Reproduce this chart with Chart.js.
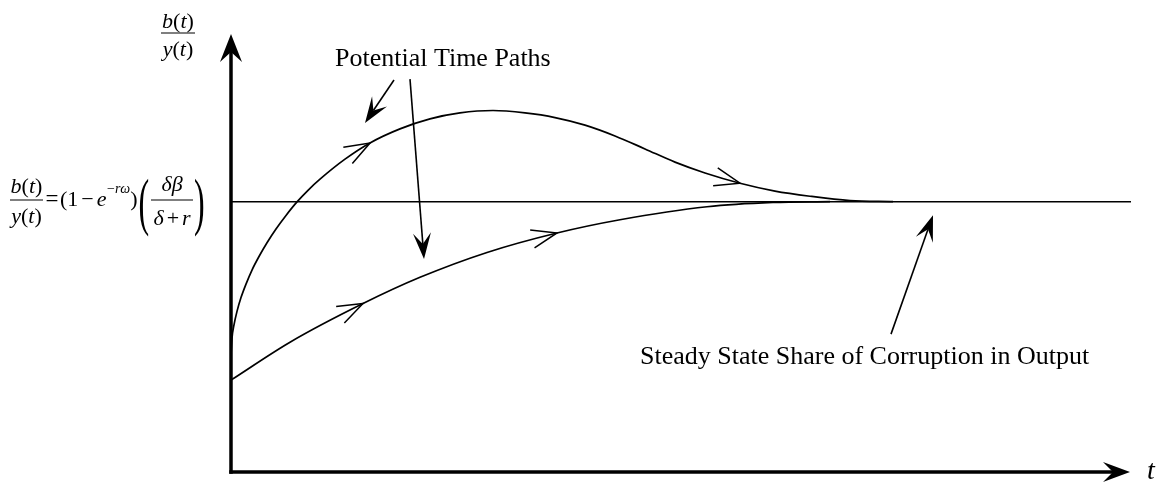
<!DOCTYPE html>
<html>
<head>
<meta charset="utf-8">
<script src="https://cdn.jsdelivr.net/npm/chart.js@4.4.1/dist/chart.umd.min.js"></script>
<style>
  html, body { margin: 0; padding: 0; background: #ffffff; }
  canvas { display: block; }
</style>
</head>
<body>
<canvas id="paths" width="1161" height="483"></canvas>
<script>
// Time axis and share axis ranges (steady-state share normalised to 1)
const timeRange = [0, 9];
const shareRange = [0, 1.62];
const steadyShare = 1;

// Path that overshoots the steady state before converging
const overshootT = [0, 0.01, 0.03, 0.06, 0.10, 0.15, 0.21, 0.28, 0.36, 0.45, 0.55, 0.66, 0.77, 0.89, 1.14, 1.39,
                    1.69, 1.99, 2.29, 2.62, 2.94, 3.24, 3.54, 3.84, 4.14, 4.44, 4.74, 5.09, 5.44, 5.79, 6.19, 6.62];
const overshootShare = [0.433, 0.495, 0.544, 0.594, 0.645, 0.695, 0.747, 0.797, 0.848, 0.899, 0.949, 0.999, 1.042, 1.083, 1.157, 1.217,
                        1.269, 1.306, 1.328, 1.337, 1.328, 1.311, 1.283, 1.243, 1.195, 1.146, 1.106, 1.068, 1.039, 1.020, 1.004, 1.0];
const overshootArrowIdx = [15, 27];

// Path that rises gradually towards the steady state
const gradualT =     [0, 0.59, 1.32, 1.89, 2.56, 3.26, 3.89, 4.76, 5.42, 5.99];
const gradualShare = [0.340, 0.480, 0.623, 0.720, 0.812, 0.884, 0.933, 0.981, 0.997, 1.0];
const gradualArrowIdx = [2, 5];

// Text shown on the diagram
const axisLabelT = 't';
const pathsLabel = 'Potential Time Paths';
const steadyLabel = 'Steady State Share of Corruption in Output';

const toPoints = (xs, ys) => xs.map((x, i) => ({ x: x, y: ys[i] }));

const SERIF = '"Liberation Serif", "Times New Roman", serif';
const INK = '#000000';

// Annotation arrows in (t, share) coordinates: [tail, tip]
const callouts = [
  [[1.63, 1.450], [1.34, 1.291]],
  [[1.79, 1.453], [1.93, 0.788]],
  [[6.60, 0.510], [7.02, 0.950]]
];

function filledArrow(ctx, x1, y1, x2, y2, len, half, notch, width) {
  const a = Math.atan2(y2 - y1, x2 - x1);
  const ca = Math.cos(a), sa = Math.sin(a);
  const nx = x2 - ca * notch, ny = y2 - sa * notch;
  ctx.save();
  ctx.strokeStyle = INK;
  ctx.fillStyle = INK;
  ctx.lineWidth = width;
  ctx.beginPath();
  ctx.moveTo(x1, y1);
  ctx.lineTo(nx, ny);
  ctx.stroke();
  const bx = x2 - ca * len, by = y2 - sa * len;
  ctx.beginPath();
  ctx.moveTo(x2, y2);
  ctx.lineTo(bx - sa * half, by + ca * half);
  ctx.lineTo(nx, ny);
  ctx.lineTo(bx + sa * half, by - ca * half);
  ctx.closePath();
  ctx.fill();
  ctx.restore();
}

function chevron(ctx, x, y, dx, dy) {
  const back = Math.atan2(-dy, -dx);
  const spread = 20 * Math.PI / 180;
  const len = 27;
  ctx.save();
  ctx.strokeStyle = INK;
  ctx.lineWidth = 1.5;
  ctx.beginPath();
  ctx.moveTo(x + Math.cos(back + spread) * len, y + Math.sin(back + spread) * len);
  ctx.lineTo(x, y);
  ctx.lineTo(x + Math.cos(back - spread) * len, y + Math.sin(back - spread) * len);
  ctx.stroke();
  ctx.restore();
}

// Text runs: [text, italic?, gapAfter]
function runsWidth(ctx, runs, size) {
  let w = 0;
  for (const r of runs) {
    ctx.font = (r[1] ? 'italic ' : '') + size + 'px ' + SERIF;
    w += ctx.measureText(r[0]).width + (r[2] || 0);
  }
  return w;
}
function drawRuns(ctx, runs, x, y, size) {
  let cx = x;
  for (const r of runs) {
    ctx.font = (r[1] ? 'italic ' : '') + size + 'px ' + SERIF;
    ctx.fillText(r[0], cx, y);
    cx += ctx.measureText(r[0]).width + (r[2] || 0);
  }
  return cx;
}
function drawRunsCentered(ctx, runs, cx, y, size) {
  const w = runsWidth(ctx, runs, size);
  drawRuns(ctx, runs, cx - w / 2, y, size);
}
function fraction(ctx, num, den, x1, x2, barY, numBase, denBase, size) {
  const cx = (x1 + x2) / 2;
  drawRunsCentered(ctx, num, cx, numBase, size);
  drawRunsCentered(ctx, den, cx, denBase, size);
  ctx.save();
  ctx.lineWidth = 1.2;
  ctx.beginPath();
  ctx.moveTo(x1, barY);
  ctx.lineTo(x2, barY);
  ctx.stroke();
  ctx.restore();
}
function tallParen(ctx, ch, x, baseline) {
  ctx.save();
  ctx.translate(x, baseline);
  ctx.scale(0.5, 1);
  ctx.font = '64px ' + SERIF;
  ctx.fillText(ch, 0, 0);
  ctx.restore();
}

const bOfT = [['b', true], ['(', false], ['t', true], [')', false]];
const yOfT = [['y', true], ['(', false], ['t', true], [')', false]];

const diagramPlugin = {
  id: 'diagram',
  afterDatasetsDraw(chart) {
    const ctx = chart.ctx;
    const xs = chart.scales.x, ys = chart.scales.y;
    const px = v => xs.getPixelForValue(v);
    const py = v => ys.getPixelForValue(v);

    ctx.save();
    ctx.fillStyle = INK;
    ctx.strokeStyle = INK;
    ctx.textBaseline = 'alphabetic';

    // Axes with arrowheads
    const x0 = px(timeRange[0]), y0 = py(shareRange[0]);
    filledArrow(ctx, x0, y0 + 1.75, x0, py(shareRange[1]), 28, 11, 18, 3.5);
    filledArrow(ctx, x0 - 1.75, y0, px(timeRange[1]) - 1, y0, 27, 10, 17, 3.5);

    // Direction chevrons along both paths
    const marks = [[0, overshootArrowIdx], [1, gradualArrowIdx]];
    for (const [di, idxs] of marks) {
      const pts = chart.getDatasetMeta(di).data;
      for (const i of idxs) {
        const p = pts[i];
        let dx = p.cp2x - p.cp1x, dy = p.cp2y - p.cp1y;
        if (!isFinite(dx) || !isFinite(dy) || (dx === 0 && dy === 0)) {
          dx = pts[i + 1].x - pts[i - 1].x;
          dy = pts[i + 1].y - pts[i - 1].y;
        }
        chevron(ctx, p.x, p.y, dx, dy);
      }
    }

    // Callout arrows
    for (const [tail, tip] of callouts) {
      filledArrow(ctx, px(tail[0]), py(tail[1]), px(tip[0]), py(tip[1]), 26, 9, 15, 1.6);
    }

    // Labels
    ctx.font = '26px ' + SERIF;
    ctx.fillText(pathsLabel, 335, 66);
    ctx.fillText(steadyLabel, 640, 364);
    ctx.font = 'italic 28px ' + SERIF;
    ctx.fillText(axisLabelT, 1147, 479);

    // Vertical axis label b(t)/y(t)
    fraction(ctx, bOfT, yOfT, 161, 195, 33, 28, 56, 22);

    // Steady-state expression beside the horizontal line
    fraction(ctx, bOfT, yOfT, 10, 43, 200, 193, 223, 22);
    ctx.font = '23px ' + SERIF;
    ctx.fillText('=', 45.5, 206);
    let cx = drawRuns(ctx, [['(', false, 0], ['1', false, 3], ['\u2212', false, 3], ['e', true, 0.5]], 60, 206, 22);
    cx = drawRuns(ctx, [['\u2212', false, 0], ['r', true, 0], ['\u03c9', true, 0]], cx, 193, 14);
    drawRuns(ctx, [[')', false]], cx, 206, 22);
    tallParen(ctx, '(', 138.5, 223);
    fraction(ctx, [['\u03b4\u03b2', true]], [['\u03b4', true, 3], ['+', false, 3], ['r', true]], 151, 193, 200, 191, 225, 22);
    tallParen(ctx, ')', 194, 223);

    ctx.restore();
  }
};

new Chart(document.getElementById('paths'), {
  type: 'line',
  data: {
    datasets: [
      {
        data: toPoints(overshootT, overshootShare),
        borderColor: INK, borderWidth: 1.7, pointRadius: 0,
        cubicInterpolationMode: 'monotone', fill: false
      },
      {
        data: toPoints(gradualT, gradualShare),
        borderColor: INK, borderWidth: 1.7, pointRadius: 0,
        cubicInterpolationMode: 'monotone', fill: false
      },
      {
        data: toPoints(timeRange, [steadyShare, steadyShare]),
        borderColor: INK, borderWidth: 1.5, pointRadius: 0, fill: false
      }
    ]
  },
  options: {
    responsive: false,
    animation: false,
    events: [],
    layout: { padding: { left: 231, right: 30, top: 34, bottom: 11 } },
    plugins: { legend: { display: false }, tooltip: { enabled: false } },
    scales: {
      x: { type: 'linear', min: timeRange[0], max: timeRange[1], display: false },
      y: { type: 'linear', min: shareRange[0], max: shareRange[1], display: false }
    }
  },
  plugins: [diagramPlugin]
});
</script>
</body>
</html>
